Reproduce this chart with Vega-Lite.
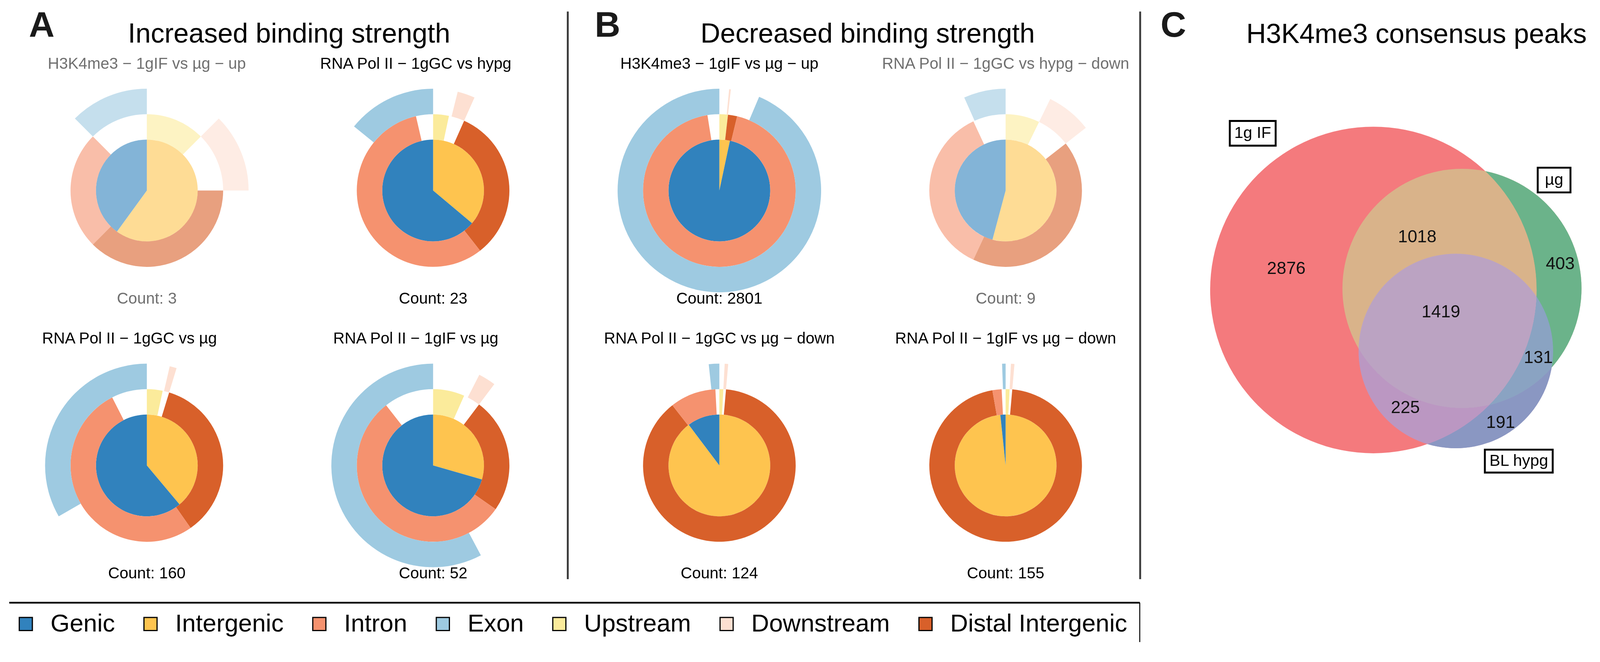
{
  "$schema": "https://vega.github.io/schema/vega-lite/v6.json",
  "width": 4150,
  "height": 1694,
  "autosize": {"type": "none"},
  "padding": 0,
  "background": "transparent",
  "config": {"view": {"stroke": null}, "font": "Liberation Sans"},
  "datasets": {
    "arcs": [
      {"col": "A1", "row": "top", "cat": "Intergenic", "t0": 0, "t1": 216, "r0": 0, "r1": 2, "faded": true},
      {"col": "A1", "row": "top", "cat": "Genic", "t0": 216, "t1": 360, "r0": 0, "r1": 2, "faded": true},
      {"col": "A1", "row": "top", "cat": "Upstream", "t0": 0, "t1": 45, "r0": 2, "r1": 3, "faded": true},
      {"col": "A1", "row": "top", "cat": "Distal Intergenic", "t0": 90, "t1": 225, "r0": 2, "r1": 3, "faded": true},
      {"col": "A1", "row": "top", "cat": "Intron", "t0": 225, "t1": 315, "r0": 2, "r1": 3, "faded": true},
      {"col": "A1", "row": "top", "cat": "Downstream", "t0": 45, "t1": 90, "r0": 3, "r1": 4, "faded": true},
      {"col": "A1", "row": "top", "cat": "Exon", "t0": 315, "t1": 360, "r0": 3, "r1": 4, "faded": true},

      {"col": "A2", "row": "top", "cat": "Intergenic", "t0": 0, "t1": 130, "r0": 0, "r1": 2, "faded": false},
      {"col": "A2", "row": "top", "cat": "Genic", "t0": 130, "t1": 360, "r0": 0, "r1": 2, "faded": false},
      {"col": "A2", "row": "top", "cat": "Upstream", "t0": 0, "t1": 12, "r0": 2, "r1": 3, "faded": false},
      {"col": "A2", "row": "top", "cat": "Distal Intergenic", "t0": 24, "t1": 142, "r0": 2, "r1": 3, "faded": false},
      {"col": "A2", "row": "top", "cat": "Intron", "t0": 142, "t1": 347, "r0": 2, "r1": 3, "faded": false},
      {"col": "A2", "row": "top", "cat": "Downstream", "t0": 14, "t1": 24, "r0": 3, "r1": 4, "faded": false},
      {"col": "A2", "row": "top", "cat": "Exon", "t0": 309, "t1": 360, "r0": 3, "r1": 4, "faded": false},

      {"col": "A1", "row": "bottom", "cat": "Intergenic", "t0": 0, "t1": 140, "r0": 0, "r1": 2, "faded": false},
      {"col": "A1", "row": "bottom", "cat": "Genic", "t0": 140, "t1": 360, "r0": 0, "r1": 2, "faded": false},
      {"col": "A1", "row": "bottom", "cat": "Upstream", "t0": 0, "t1": 12, "r0": 2, "r1": 3, "faded": false},
      {"col": "A1", "row": "bottom", "cat": "Distal Intergenic", "t0": 17, "t1": 145, "r0": 2, "r1": 3, "faded": false},
      {"col": "A1", "row": "bottom", "cat": "Intron", "t0": 145, "t1": 333, "r0": 2, "r1": 3, "faded": false},
      {"col": "A1", "row": "bottom", "cat": "Downstream", "t0": 13, "t1": 17, "r0": 3, "r1": 4, "faded": false},
      {"col": "A1", "row": "bottom", "cat": "Exon", "t0": 240, "t1": 360, "r0": 3, "r1": 4, "faded": false},

      {"col": "A2", "row": "bottom", "cat": "Intergenic", "t0": 0, "t1": 106, "r0": 0, "r1": 2, "faded": false},
      {"col": "A2", "row": "bottom", "cat": "Genic", "t0": 106, "t1": 360, "r0": 0, "r1": 2, "faded": false},
      {"col": "A2", "row": "bottom", "cat": "Upstream", "t0": 0, "t1": 24, "r0": 2, "r1": 3, "faded": false},
      {"col": "A2", "row": "bottom", "cat": "Distal Intergenic", "t0": 37, "t1": 125, "r0": 2, "r1": 3, "faded": false},
      {"col": "A2", "row": "bottom", "cat": "Intron", "t0": 125, "t1": 322, "r0": 2, "r1": 3, "faded": false},
      {"col": "A2", "row": "bottom", "cat": "Downstream", "t0": 27, "t1": 37, "r0": 3, "r1": 4, "faded": false},
      {"col": "A2", "row": "bottom", "cat": "Exon", "t0": 152, "t1": 360, "r0": 3, "r1": 4, "faded": false},

      {"col": "B1", "row": "top", "cat": "Intergenic", "t0": 0, "t1": 12, "r0": 0, "r1": 2, "faded": false},
      {"col": "B1", "row": "top", "cat": "Genic", "t0": 12, "t1": 360, "r0": 0, "r1": 2, "faded": false},
      {"col": "B1", "row": "top", "cat": "Upstream", "t0": 0, "t1": 6.5, "r0": 2, "r1": 3, "faded": false},
      {"col": "B1", "row": "top", "cat": "Distal Intergenic", "t0": 6.5, "t1": 13.5, "r0": 2, "r1": 3, "faded": false},
      {"col": "B1", "row": "top", "cat": "Intron", "t0": 13.5, "t1": 351, "r0": 2, "r1": 3, "faded": false},
      {"col": "B1", "row": "top", "cat": "Downstream", "t0": 5.5, "t1": 6.5, "r0": 3, "r1": 4, "faded": false},
      {"col": "B1", "row": "top", "cat": "Exon", "t0": 23, "t1": 360, "r0": 3, "r1": 4, "faded": false},

      {"col": "B2", "row": "top", "cat": "Intergenic", "t0": 0, "t1": 195, "r0": 0, "r1": 2, "faded": true},
      {"col": "B2", "row": "top", "cat": "Genic", "t0": 195, "t1": 360, "r0": 0, "r1": 2, "faded": true},
      {"col": "B2", "row": "top", "cat": "Upstream", "t0": 0, "t1": 26, "r0": 2, "r1": 3, "faded": true},
      {"col": "B2", "row": "top", "cat": "Distal Intergenic", "t0": 52, "t1": 205, "r0": 2, "r1": 3, "faded": true},
      {"col": "B2", "row": "top", "cat": "Intron", "t0": 205, "t1": 335, "r0": 2, "r1": 3, "faded": true},
      {"col": "B2", "row": "top", "cat": "Downstream", "t0": 26, "t1": 52, "r0": 3, "r1": 4, "faded": true},
      {"col": "B2", "row": "top", "cat": "Exon", "t0": 336, "t1": 360, "r0": 3, "r1": 4, "faded": true},

      {"col": "B1", "row": "bottom", "cat": "Intergenic", "t0": 0, "t1": 323, "r0": 0, "r1": 2, "faded": false},
      {"col": "B1", "row": "bottom", "cat": "Genic", "t0": 323, "t1": 360, "r0": 0, "r1": 2, "faded": false},
      {"col": "B1", "row": "bottom", "cat": "Upstream", "t0": 0, "t1": 3, "r0": 2, "r1": 3, "faded": false},
      {"col": "B1", "row": "bottom", "cat": "Distal Intergenic", "t0": 5, "t1": 322, "r0": 2, "r1": 3, "faded": false},
      {"col": "B1", "row": "bottom", "cat": "Intron", "t0": 322, "t1": 357, "r0": 2, "r1": 3, "faded": false},
      {"col": "B1", "row": "bottom", "cat": "Downstream", "t0": 3, "t1": 5, "r0": 3, "r1": 4, "faded": false},
      {"col": "B1", "row": "bottom", "cat": "Exon", "t0": 354, "t1": 360, "r0": 3, "r1": 4, "faded": false},

      {"col": "B2", "row": "bottom", "cat": "Intergenic", "t0": 0, "t1": 354, "r0": 0, "r1": 2, "faded": false},
      {"col": "B2", "row": "bottom", "cat": "Genic", "t0": 354, "t1": 360, "r0": 0, "r1": 2, "faded": false},
      {"col": "B2", "row": "bottom", "cat": "Upstream", "t0": 0, "t1": 3, "r0": 2, "r1": 3, "faded": false},
      {"col": "B2", "row": "bottom", "cat": "Distal Intergenic", "t0": 5, "t1": 350, "r0": 2, "r1": 3, "faded": false},
      {"col": "B2", "row": "bottom", "cat": "Intron", "t0": 350, "t1": 357, "r0": 2, "r1": 3, "faded": false},
      {"col": "B2", "row": "bottom", "cat": "Downstream", "t0": 3, "t1": 5, "r0": 3, "r1": 4, "faded": false},
      {"col": "B2", "row": "bottom", "cat": "Exon", "t0": 358, "t1": 360, "r0": 3, "r1": 4, "faded": false}
    ],
    "charts": [
      {"col": "A1", "row": "top", "title": "H3K4me3 − 1gIF vs µg − up", "count": "Count: 3", "faded": true},
      {"col": "A2", "row": "top", "title": "RNA Pol II − 1gGC vs hypg", "count": "Count: 23", "faded": false},
      {"col": "A1", "row": "bottom", "title": "RNA Pol II − 1gGC vs µg", "count": "Count: 160", "faded": false},
      {"col": "A2", "row": "bottom", "title": "RNA Pol II − 1gIF vs µg", "count": "Count: 52", "faded": false},
      {"col": "B1", "row": "top", "title": "H3K4me3 − 1gIF vs µg − up", "count": "Count: 2801", "faded": false},
      {"col": "B2", "row": "top", "title": "RNA Pol II − 1gGC vs hypg − down", "count": "Count: 9", "faded": true},
      {"col": "B1", "row": "bottom", "title": "RNA Pol II − 1gGC vs µg − down", "count": "Count: 124", "faded": false},
      {"col": "B2", "row": "bottom", "title": "RNA Pol II − 1gIF vs µg − down", "count": "Count: 155", "faded": false}
    ],
    "panels": [
      {"panel": "A", "title": "Increased binding strength"},
      {"panel": "B", "title": "Decreased binding strength"},
      {"panel": "C", "title": "H3K4me3 consensus peaks"}
    ],
    "dividers": [{"gap": "AB"}, {"gap": "BC"}],
    "venn_sets": [
      {"set": "1g IF", "n": 5538, "vx": 0, "vy": 0},
      {"set": "µg", "n": 2971, "vx": 40.4, "vy": 0.7},
      {"set": "BL hypg", "n": 1966, "vx": 37.6, "vy": -27.8}
    ],
    "venn_regions": [
      {"label": "2876", "vx": -39.7, "vy": 9.7},
      {"label": "1018", "vx": 20.0, "vy": 24.1},
      {"label": "403", "vx": 85.2, "vy": 11.8},
      {"label": "1419", "vx": 30.8, "vy": -10.2},
      {"label": "131", "vx": 75.2, "vy": -30.9},
      {"label": "225", "vx": 14.6, "vy": -53.8},
      {"label": "191", "vx": 58.0, "vy": -60.6}
    ],
    "venn_tags": [
      {"tag": "1g IF", "vx": -55.0, "vy": 71.4},
      {"tag": "µg", "vx": 82.4, "vy": 50.1},
      {"tag": "BL hypg", "vx": 66.3, "vy": -78.0}
    ]
  },
  "resolve": {"scale": {"x": "independent", "y": "independent", "color": "independent", "size": "independent", "shape": "independent", "theta": "independent", "radius": "independent", "opacity": "independent"}},
  "layer": [
    {
      "data": {"name": "arcs"},
      "mark": {"type": "arc", "strokeWidth": 0},
      "encoding": {
        "x": {"field": "col", "type": "nominal", "scale": {"type": "point", "domain": ["A1", "A2", "B1", "B2"], "range": [375.9, 2574.4], "padding": 0}, "axis": null},
        "y": {"field": "row", "type": "nominal", "scale": {"type": "point", "domain": ["top", "bottom"], "range": [487.5, 1191], "padding": 0}, "axis": null},
        "theta": {"field": "t0", "type": "quantitative", "stack": null, "scale": {"type": "linear", "domain": [0, 360], "range": [0, 6.283185307179586], "zero": false, "nice": false}},
        "theta2": {"field": "t1"},
        "radius": {"field": "r0", "type": "quantitative", "stack": null, "scale": {"type": "linear", "domain": [0, 4], "range": [0, 260.5], "zero": true, "nice": false}},
        "radius2": {"field": "r1"},
        "color": {
          "field": "cat", "type": "nominal",
          "scale": {"domain": ["Genic", "Intergenic", "Intron", "Exon", "Upstream", "Downstream", "Distal Intergenic"],
                    "range": ["#3182BD", "#FEC44F", "#F5926F", "#9ECAE1", "#FBEB9B", "#FDE0D2", "#D8602A"]},
          "legend": {
            "orient": "none", "legendX": 34.5, "legendY": 1565, "direction": "horizontal", "columns": 7, "title": null,
            "symbolType": "square", "symbolSize": 1126, "symbolStrokeColor": "black", "symbolStrokeWidth": 3, "symbolOpacity": 1,
            "labelFont": "Liberation Sans", "labelFontSize": 63.2, "labelColor": "black", "labelLimit": 1000, "labelOffset": 31.6,
            "columnPadding": 59.2, "padding": 0
          }
        },
        "opacity": {"condition": {"test": "datum.faded", "value": 0.6}, "value": 1}
      }
    },
    {
      "data": {"name": "charts"},
      "transform": [{"filter": "!(datum.col === 'A2' || (datum.col === 'A1' && datum.row === 'bottom'))"}],
      "mark": {"type": "text", "font": "Liberation Sans", "fontSize": 40.5, "baseline": "alphabetic", "align": "center", "dy": -311.8},
      "encoding": {
        "x": {"field": "col", "type": "nominal", "scale": {"type": "point", "domain": ["A1", "A2", "B1", "B2"], "range": [375.9, 2574.4], "padding": 0}, "axis": null},
        "y": {"field": "row", "type": "nominal", "scale": {"type": "point", "domain": ["top", "bottom"], "range": [487.5, 1191], "padding": 0}, "axis": null},
        "text": {"field": "title"},
        "color": {"condition": {"test": "datum.faded", "value": "#707070"}, "value": "#000000"}
      }
    },
    {
      "data": {"name": "charts"},
      "transform": [{"filter": "datum.col === 'A2' || (datum.col === 'A1' && datum.row === 'bottom')"}],
      "mark": {"type": "text", "font": "Liberation Sans", "fontSize": 40.5, "baseline": "alphabetic", "align": "center", "dy": -311.8, "dx": -44.4},
      "encoding": {
        "x": {"field": "col", "type": "nominal", "scale": {"type": "point", "domain": ["A1", "A2", "B1", "B2"], "range": [375.9, 2574.4], "padding": 0}, "axis": null},
        "y": {"field": "row", "type": "nominal", "scale": {"type": "point", "domain": ["top", "bottom"], "range": [487.5, 1191], "padding": 0}, "axis": null},
        "text": {"field": "title"},
        "color": {"condition": {"test": "datum.faded", "value": "#707070"}, "value": "#000000"}
      }
    },
    {
      "data": {"name": "charts"},
      "mark": {"type": "text", "font": "Liberation Sans", "fontSize": 40.5, "baseline": "middle", "align": "center", "dy": 277.3},
      "encoding": {
        "x": {"field": "col", "type": "nominal", "scale": {"type": "point", "domain": ["A1", "A2", "B1", "B2"], "range": [375.9, 2574.4], "padding": 0}, "axis": null},
        "y": {"field": "row", "type": "nominal", "scale": {"type": "point", "domain": ["top", "bottom"], "range": [487.5, 1191], "padding": 0}, "axis": null},
        "text": {"field": "count"},
        "color": {"condition": {"test": "datum.faded", "value": "#707070"}, "value": "#000000"}
      }
    },
    {
      "data": {"name": "panels"},
      "mark": {"type": "text", "font": "Liberation Sans", "fontSize": 90.8, "fontWeight": "bold", "baseline": "alphabetic", "align": "left", "color": "#1a1a1a"},
      "encoding": {
        "x": {"field": "panel", "type": "nominal", "scale": {"type": "point", "domain": ["A", "B", "C"], "range": [74, 2971.1], "padding": 0}, "axis": null},
        "y": {"field": "panel", "type": "nominal", "scale": {"type": "point", "domain": ["A", "B", "C"], "range": [93.7, 93.7], "padding": 0}, "axis": null},
        "text": {"field": "panel"}
      }
    },
    {
      "data": {"name": "panels"},
      "transform": [{"filter": {"field": "panel", "oneOf": ["A", "B"]}}],
      "mark": {"type": "text", "font": "Liberation Sans", "fontSize": 70, "baseline": "alphabetic", "align": "center", "color": "#000000"},
      "encoding": {
        "x": {"field": "panel", "type": "nominal", "scale": {"type": "point", "domain": ["A", "B"], "range": [740.1, 2221.2], "padding": 0}, "axis": null},
        "y": {"field": "panel", "type": "nominal", "scale": {"type": "point", "domain": ["A", "B"], "range": [108.5, 108.5], "padding": 0}, "axis": null},
        "text": {"field": "title"}
      }
    },
    {
      "data": {"name": "panels"},
      "transform": [{"filter": {"field": "panel", "equal": "C"}}],
      "mark": {"type": "text", "font": "Liberation Sans", "fontSize": 70, "baseline": "alphabetic", "align": "center", "color": "#000000"},
      "encoding": {
        "x": {"field": "panel", "type": "nominal", "scale": {"type": "point", "domain": ["C"], "range": [3626.3, 3626.3], "padding": 0}, "axis": null},
        "y": {"field": "panel", "type": "nominal", "scale": {"type": "point", "domain": ["C"], "range": [109.5, 109.5], "padding": 0}, "axis": null},
        "text": {"field": "title"}
      }
    },
    {
      "data": {"name": "dividers"},
      "mark": {"type": "rule", "color": "#3d3d3d", "strokeWidth": 4.9},
      "encoding": {
        "x": {"field": "gap", "type": "nominal", "scale": {"type": "point", "domain": ["AB", "BC"], "range": [1453.5, 2918.8], "padding": 0}, "axis": null},
        "y": {"datum": 0, "type": "quantitative", "scale": {"domain": [0, 1], "range": [29.6, 1482.1], "zero": false, "nice": false}, "axis": null},
        "y2": {"datum": 1}
      }
    },
    {
      "data": {"values": [{"part": "legend frame top"}]},
      "mark": {"type": "rule", "color": "#000000", "strokeWidth": 4.4},
      "encoding": {
        "x": {"datum": 0, "type": "quantitative", "scale": {"domain": [0, 1], "range": [23.7, 2917.8], "zero": false, "nice": false}, "axis": null},
        "x2": {"datum": 1},
        "y": {"datum": 0, "type": "quantitative", "scale": {"domain": [0, 1], "range": [1542.3, 1643], "zero": false, "nice": false}, "axis": null}
      }
    },
    {
      "data": {"values": [{"part": "legend frame right"}]},
      "mark": {"type": "rule", "color": "#000000", "strokeWidth": 2.5},
      "encoding": {
        "x": {"datum": 1, "type": "quantitative", "scale": {"domain": [0, 1], "range": [23.7, 2917.8], "zero": false, "nice": false}, "axis": null},
        "y": {"datum": 0, "type": "quantitative", "scale": {"domain": [0, 1], "range": [1542.3, 1643], "zero": false, "nice": false}, "axis": null},
        "y2": {"datum": 1}
      }
    },
    {
      "data": {"name": "venn_sets"},
      "transform": [{"filter": {"field": "set", "equal": "1g IF"}}],
      "mark": {"type": "point", "shape": "circle", "filled": true, "opacity": 1, "strokeWidth": 0, "color": "#F47A7D"},
      "encoding": {
        "x": {"field": "vx", "type": "quantitative", "scale": {"domain": [-100, 100], "range": [2954.3, 4077.3], "zero": false, "nice": false}, "axis": null},
        "y": {"field": "vy", "type": "quantitative", "scale": {"domain": [-100, 100], "range": [1303.5, 180.6], "zero": false, "nice": false}, "axis": null},
        "size": {"field": "n", "type": "quantitative", "scale": {"type": "linear", "domain": [0, 1000], "range": [0, 126095], "zero": true}, "legend": null}
      }
    },
    {
      "data": {"name": "venn_sets"},
      "transform": [{"filter": {"field": "set", "equal": "µg"}}],
      "mark": {"type": "point", "shape": "circle", "filled": true, "opacity": 1, "strokeWidth": 0, "color": "#6BB38A", "blend": "lighten"},
      "encoding": {
        "x": {"field": "vx", "type": "quantitative", "scale": {"domain": [-100, 100], "range": [2954.3, 4077.3], "zero": false, "nice": false}, "axis": null},
        "y": {"field": "vy", "type": "quantitative", "scale": {"domain": [-100, 100], "range": [1303.5, 180.6], "zero": false, "nice": false}, "axis": null},
        "size": {"field": "n", "type": "quantitative", "scale": {"type": "linear", "domain": [0, 1000], "range": [0, 126095], "zero": true}, "legend": null}
      }
    },
    {
      "data": {"name": "venn_sets"},
      "transform": [{"filter": {"field": "set", "equal": "µg"}}],
      "mark": {"type": "point", "shape": "circle", "filled": true, "opacity": 1, "strokeWidth": 0, "color": "#D9BEA0", "blend": "darken"},
      "encoding": {
        "x": {"field": "vx", "type": "quantitative", "scale": {"domain": [-100, 100], "range": [2954.3, 4077.3], "zero": false, "nice": false}, "axis": null},
        "y": {"field": "vy", "type": "quantitative", "scale": {"domain": [-100, 100], "range": [1303.5, 180.6], "zero": false, "nice": false}, "axis": null},
        "size": {"field": "n", "type": "quantitative", "scale": {"type": "linear", "domain": [0, 1000], "range": [0, 126095], "zero": true}, "legend": null}
      }
    },
    {
      "data": {"name": "venn_sets"},
      "transform": [{"filter": {"field": "set", "equal": "BL hypg"}}],
      "mark": {"type": "point", "shape": "circle", "filled": true, "opacity": 1, "strokeWidth": 0, "color": "#8A97CC", "blend": "lighten"},
      "encoding": {
        "x": {"field": "vx", "type": "quantitative", "scale": {"domain": [-100, 100], "range": [2954.3, 4077.3], "zero": false, "nice": false}, "axis": null},
        "y": {"field": "vy", "type": "quantitative", "scale": {"domain": [-100, 100], "range": [1303.5, 180.6], "zero": false, "nice": false}, "axis": null},
        "size": {"field": "n", "type": "quantitative", "scale": {"type": "linear", "domain": [0, 1000], "range": [0, 126095], "zero": true}, "legend": null}
      }
    },
    {
      "data": {"name": "venn_sets"},
      "transform": [{"filter": {"field": "set", "equal": "BL hypg"}}],
      "mark": {"type": "point", "shape": "circle", "filled": true, "opacity": 1, "strokeWidth": 0, "color": "#BBA3C2", "blend": "darken"},
      "encoding": {
        "x": {"field": "vx", "type": "quantitative", "scale": {"domain": [-100, 100], "range": [2954.3, 4077.3], "zero": false, "nice": false}, "axis": null},
        "y": {"field": "vy", "type": "quantitative", "scale": {"domain": [-100, 100], "range": [1303.5, 180.6], "zero": false, "nice": false}, "axis": null},
        "size": {"field": "n", "type": "quantitative", "scale": {"type": "linear", "domain": [0, 1000], "range": [0, 126095], "zero": true}, "legend": null}
      }
    },
    {
      "data": {"name": "venn_regions"},
      "mark": {"type": "text", "font": "Liberation Sans", "fontSize": 44.4, "baseline": "middle", "align": "center", "color": "#111111"},
      "encoding": {
        "x": {"field": "vx", "type": "quantitative", "scale": {"domain": [-100, 100], "range": [2954.3, 4077.3], "zero": false, "nice": false}, "axis": null},
        "y": {"field": "vy", "type": "quantitative", "scale": {"domain": [-100, 100], "range": [1303.5, 180.6], "zero": false, "nice": false}, "axis": null},
        "text": {"field": "label", "type": "nominal"}
      }
    },
    {
      "data": {"name": "venn_tags"},
      "mark": {"type": "point", "filled": true, "fill": "white", "stroke": "black", "strokeWidth": 4.9, "size": 31547, "opacity": 1},
      "encoding": {
        "x": {"field": "vx", "type": "quantitative", "scale": {"domain": [-100, 100], "range": [2954.3, 4077.3], "zero": false, "nice": false}, "axis": null},
        "y": {"field": "vy", "type": "quantitative", "scale": {"domain": [-100, 100], "range": [1303.5, 180.6], "zero": false, "nice": false}, "axis": null},
        "shape": {"field": "tag", "type": "nominal", "scale": {"domain": ["1g IF", "µg", "BL hypg"], "range": ["M-0.661,-0.356H0.661V0.356H-0.661Z", "M-0.472,-0.356H0.472V0.356H-0.472Z", "M-0.978,-0.33H0.978V0.33H-0.978Z"]}, "legend": null}
      }
    },
    {
      "data": {"name": "venn_tags"},
      "mark": {"type": "text", "font": "Liberation Sans", "fontSize": 41.4, "baseline": "middle", "align": "center", "color": "#000000"},
      "encoding": {
        "x": {"field": "vx", "type": "quantitative", "scale": {"domain": [-100, 100], "range": [2954.3, 4077.3], "zero": false, "nice": false}, "axis": null},
        "y": {"field": "vy", "type": "quantitative", "scale": {"domain": [-100, 100], "range": [1303.5, 180.6], "zero": false, "nice": false}, "axis": null},
        "text": {"field": "tag", "type": "nominal"}
      }
    }
  ]
}
